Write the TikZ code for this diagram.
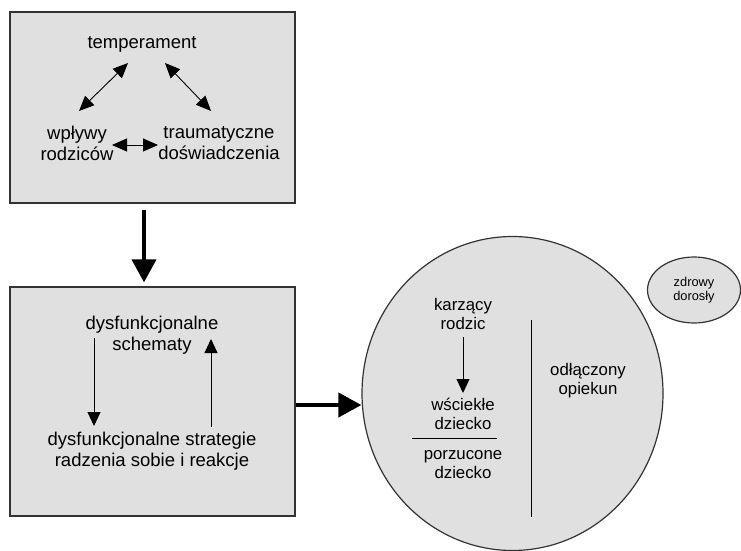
\documentclass[tikz,border=0pt]{standalone}
\usepackage{fontspec}
\setmainfont{Liberation Sans}
\usetikzlibrary{arrows.meta,shapes.geometric}
\definecolor{panel}{HTML}{E0E0E0}
\definecolor{edge}{HTML}{333333}
\tikzset{
  panelbox/.style={draw=edge, line width=1.3pt, fill=panel, rectangle, inner sep=0pt},
  blob/.style={draw=edge, line width=1.2pt, fill=panel, ellipse, inner sep=0pt},
  label/.style={align=center, inner sep=0pt, font=\fontsize{18.5}{21}\selectfont},
  clabel/.style={align=center, inner sep=0pt, font=\fontsize{16.8}{19}\selectfont},
  slabel/.style={align=center, inner sep=0pt, font=\fontsize{12.8}{13.5}\selectfont},
  thin/.style={line width=0.9pt, draw=black},
  twoway/.style={thin, {Triangle[length=15pt,width=13pt]}-{Triangle[length=15pt,width=13pt]}},
  oneway/.style={thin, -{Triangle[length=14pt,width=13pt]}},
  bigarrow/.style={line width=4pt, -{Triangle[length=23pt,width=24pt]}},
}
\begin{document}
\begin{tikzpicture}[x=1pt,y=-1pt]
  \useasboundingbox (0,0) rectangle (741,551);

  % source panel
  \node[panelbox, minimum width=285pt, minimum height=191pt] (box1) at (152.5,107.5) {};
  \node[label] (temp) at (142,44) {temperament};
  \node[label] (wply) at (77,143) {wpływy\\rodziców};
  \node[label] (traum) at (219,143) {traumatyczne\\doświadczenia};
  \coordinate (tl1) at (128,63);
  \coordinate (tl2) at (79,111);
  \coordinate (tr1) at (165,63);
  \coordinate (tr2) at (211,111);
  \coordinate (h1) at (112,145);
  \coordinate (h2) at (158,145);
  \draw[twoway] (tl1) -- (tl2);
  \draw[twoway] (tr1) -- (tr2);
  \draw[twoway] (h1) -- (h2);

  % schema panel
  \node[panelbox, minimum width=285pt, minimum height=229pt] (box2) at (152.5,401.5) {};
  \node[label] (schem) at (152,335) {dysfunkcjonalne\\schematy};
  \node[label] (strat) at (152,451) {dysfunkcjonalne strategie\\radzenia sobie i reakcje};
  \coordinate (d1) at (94,338);
  \coordinate (d2) at (94,426);
  \coordinate (u1) at (211,427);
  \coordinate (u2) at (211,339);
  \draw[oneway] (d1) -- (d2);
  \draw[oneway] (u1) -- (u2);

  % modes
  \node[blob, minimum width=301pt, minimum height=314pt] (modes) at (512.5,393.5) {};
  \node[blob, minimum width=93pt, minimum height=66pt] (adult) at (694,290) {};
  \node[slabel] (adultt) at (adult.center) {zdrowy\\dorosły};
  \node[clabel] (punish) at (463,314) {karzący\\rodzic};
  \node[clabel] (angry) at (463,414) {wściekłe\\dziecko};
  \node[clabel] (aband) at (463,465) {porzucone\\dziecko};
  \node[clabel] (detach) at (588,381) {odłączony\\opiekun};
  \coordinate (k1) at (463,337);
  \coordinate (k2) at (463,393);
  \draw[oneway] (k1) -- (k2);
  \coordinate (sepl) at (412,438);
  \coordinate (sepr) at (497,438);
  \draw[thin] (sepl) -- (sepr);
  \coordinate (vt) at (531,320);
  \coordinate (vb) at (531,517);
  \draw[thin] (vt) -- (vb);

  % flow between blocks
  \draw[bigarrow] ([xshift=-8.5pt,yshift=-6pt]box1.south) -- ([xshift=-8.5pt,yshift=4pt]box2.north);
  \draw[bigarrow] ([yshift=-3.5pt]box2.east) -- ([yshift=-3.5pt]box2.east -| modes.west);
\end{tikzpicture}
\end{document}
